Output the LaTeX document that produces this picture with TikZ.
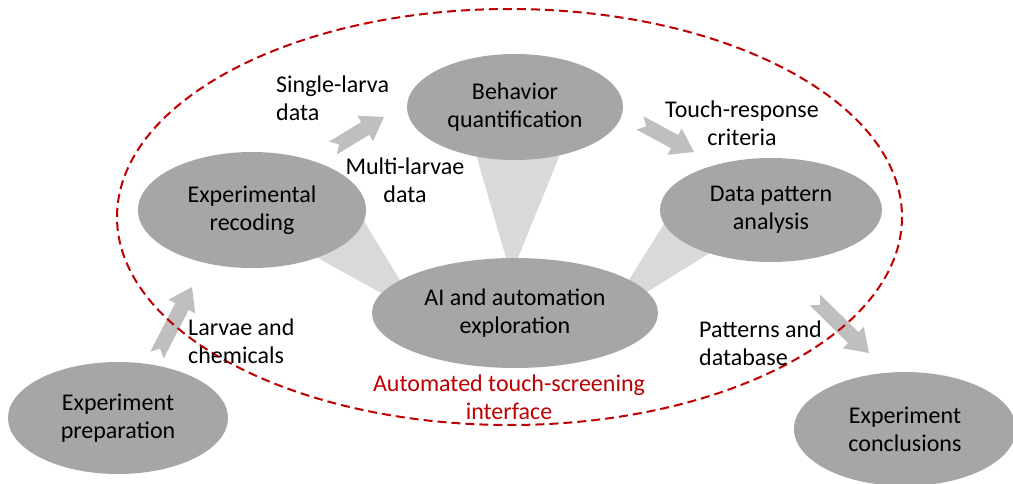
\documentclass[tikz,border=0pt]{standalone}
\usepackage{fontspec}
\setmainfont{Carlito}
\usetikzlibrary{shapes.geometric,calc}

\definecolor{bubble}{RGB}{166,166,166}
\definecolor{fan}{RGB}{217,217,217}
\definecolor{flow}{RGB}{191,191,191}
\definecolor{loopred}{RGB}{192,0,0}

% notched block arrow from tail coordinate #1 to tip coordinate #2
\newcommand\blockarrow[2]{%
  \coordinate (hb) at ($(#2)!22pt!(#1)$);
  \fill[flow]
    ($(#1)!7.5pt!90:(#2)$) -- ($(hb)!7.5pt!90:(#2)$) -- ($(hb)!15pt!90:(#2)$)
    -- (#2)
    -- ($(hb)!15pt!-90:(#2)$) -- ($(hb)!7.5pt!-90:(#2)$) -- ($(#1)!7.5pt!-90:(#2)$)
    -- ($(#1)!7pt!(#2)$) -- cycle;
}

\tikzset{
  stage/.style={ellipse, fill=bubble, inner sep=0pt, align=center,
    font=\fontsize{24}{28}\selectfont},
  label/.style={inner sep=0pt, font=\fontsize{24}{28}\selectfont},
}

\begin{document}
\begin{tikzpicture}[x=1pt,y=-1pt]
\useasboundingbox (0,0) rectangle (1013,484);
\fill[white] (0,0) rectangle (1013,484);

% fans linking the central hub to the three stages
\fill[fan] (347,193) -- (285,240) -- (421,315) -- cycle;
\fill[fan] (466,120) -- (574,120) -- (511,275) -- cycle;
\fill[fan] (679,200) -- (750,228) -- (605,318) -- cycle;

% stages
\node[stage, minimum width=220pt, minimum height=112pt] (prep) at (118,418)
  {Experiment\\preparation};
\node[stage, minimum width=228pt, minimum height=116pt] (rec) at (252,210)
  {Experimental\\recoding};
\node[stage, minimum width=216pt, minimum height=106pt] (beh) at (515,107)
  {Behavior\\quantification};
\node[stage, minimum width=222pt, minimum height=104pt] (dpa) at (771,210)
  {Data pattern\\analysis};
\node[stage, minimum width=286pt, minimum height=110pt] (ai) at (515,313)
  {AI and automation\\exploration};
\node[stage, minimum width=222pt, minimum height=114pt] (conc) at (905,429)
  {Experiment\\conclusions};

% flow arrows
\coordinate (a1t) at (157,355); \coordinate (a1h) at (192,287);
\coordinate (a2t) at (333,148); \coordinate (a2h) at (384,117);
\coordinate (a3t) at (640,123); \coordinate (a3h) at (694,152);
\coordinate (a4t) at (815,300); \coordinate (a4h) at (869,353);
\blockarrow{a1t}{a1h}
\blockarrow{a2t}{a2h}
\blockarrow{a3t}{a3h}
\blockarrow{a4t}{a4h}

% automated interface boundary
\draw[loopred, line width=2pt, dash pattern=on 9pt off 5pt] (509.5,217) ellipse [x radius=392.5, y radius=208];

% arrow labels
\node[label, align=left, anchor=west] (l1) at (276,98) {Single-larva\\data};
\node[label, align=center] (l2) at (405,180) {Multi-larvae\\data};
\node[label, align=center] (l3) at (742,123) {Touch-response\\criteria};
\node[label, align=left, anchor=west] (l4) at (188,341) {Larvae and\\chemicals};
\node[label, align=left, anchor=west] (l5) at (699,343) {Patterns and\\database};
\node[label, align=center, text=loopred] (l6) at (509,397) {Automated touch-screening\\interface};
\end{tikzpicture}
\end{document}
